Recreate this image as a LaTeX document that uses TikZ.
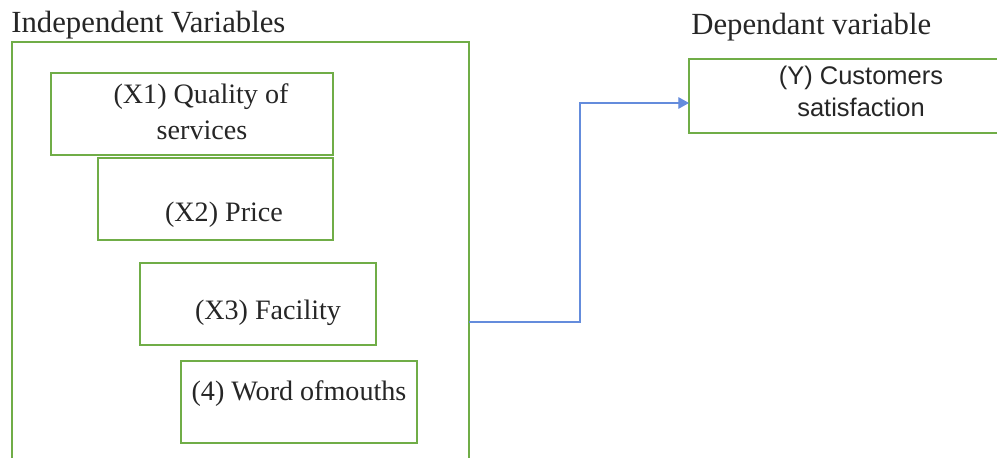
\documentclass[tikz,border=0pt]{standalone}
\usepackage{fontspec}
\setmainfont{Liberation Serif}
\newfontfamily\arialfont{Liberation Sans}
\usetikzlibrary{fit,arrows.meta}
\definecolor{boxgreen}{RGB}{112,173,71}
\definecolor{linkblue}{RGB}{100,140,220}
\tikzset{
  box/.style={draw=boxgreen, line width=0.9pt, inner sep=0pt},
  txt/.style={inner sep=0pt, font=\fontsize{16}{19}\selectfont, text=black!85},
  ttl/.style={inner sep=0pt, font=\fontsize{17.5}{20}\selectfont, text=black!85},
  ytxt/.style={inner sep=0pt, font=\arialfont\fontsize{14.5}{17.5}\selectfont, text=black!85, align=center},
  link/.style={draw=linkblue, line width=0.6pt, -{Triangle[length=6pt,width=6.5pt]}}
}
\begin{document}
\begin{tikzpicture}[x=0.02cm,y=-0.02cm]
\useasboundingbox (0,0) rectangle (997,457);
\clip (0,0) rectangle (997,457);
\fill[white] (0,0) rectangle (997,457);
% titles
\node[ttl, anchor=west] (indep) at (11,25) {Independent Variables};
\node[ttl, anchor=west] (dep) at (691,27) {Dependant variable};
% outer box
\node[box, fit={(12,42) (469,490)}] (outer) {};
% inner boxes
\node[box, fit={(51,73) (333,155)}] (x1) {};
\node[box, fit={(98,158) (333,240)}] (x2) {};
\node[box, fit={(140,263) (376,345)}] (x3) {};
\node[box, fit={(181,361) (417,443)}] (x4) {};
% texts
\node[txt] (t1a) at (201,97) {(X1) Quality of};
\node[txt] (t1b) at (202,130) {services};
\node[txt] (t2) at (224,215) {(X2) Price};
\node[txt] (t3) at (268,313) {(X3) Facility};
\node[txt] (t4) at (299,394) {(4) Word ofmouths};
% dependent box
\node[box, fit={(689,59) (1010,133)}] (ybox) {};
\node[ytxt] (yt1) at (861,78) {(Y) Customers};
\node[ytxt] (yt2) at (861,107) {satisfaction};
% connector
\coordinate (start) at (469,322);
\coordinate (bend) at (580,322);
\coordinate (yin) at (689,103);
\draw[link] (start) -- (bend) |- (yin);
\end{tikzpicture}
\end{document}
